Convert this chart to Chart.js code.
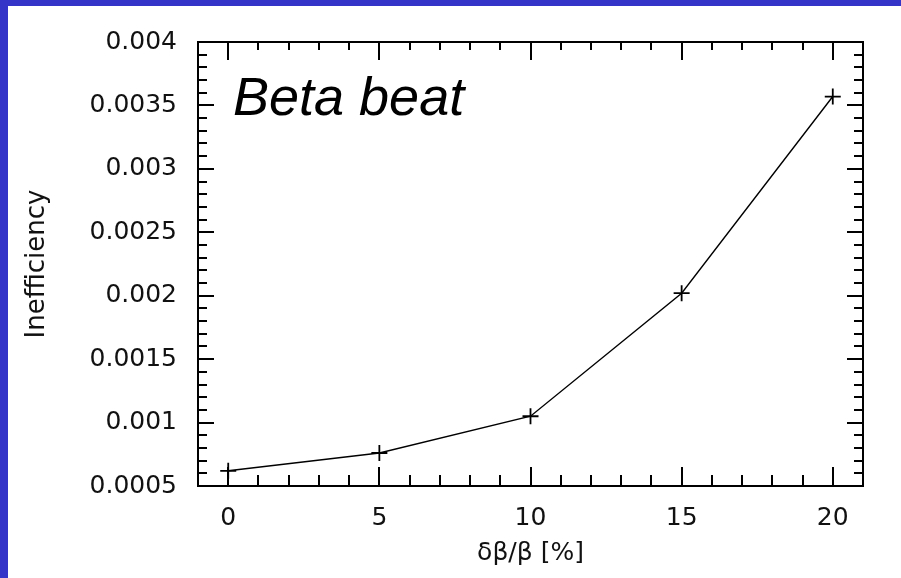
<!DOCTYPE html>
<html>
<head>
<meta charset="utf-8">
<script src="https://cdn.jsdelivr.net/npm/chart.js@4.4.0/dist/chart.umd.min.js"></script>
<style>
    html, body { margin: 0; padding: 0; }
    body { width: 901px; height: 578px; background: #3434c8; overflow: hidden; position: relative; }
    #painel { position: absolute; left: 8px; top: 6px; width: 893px; height: 572px; background: #fff; }
    #rotulo { position: absolute; left: 233px; top: 69px; font: italic 54px "Liberation Sans", Arial, sans-serif; line-height: 54px; color: #000; }
</style>
</head>
<body>
<div id="painel"><canvas id="GraficoBeta" width="893" height="572"></canvas></div>
<div id="rotulo">Beta beat</div>
<script>
var betaBeat = [0, 5, 10, 15, 20];
var inefficiency = [0.00062, 0.00076, 0.00105, 0.00202, 0.00357];

var xTicks = [0, 5, 10, 15, 20];
var yTicks = [0.0005, 0.001, 0.0015, 0.002, 0.0025, 0.003, 0.0035, 0.004];
var yTickLabels = ['0.0005', '0.001', '0.0015', '0.002', '0.0025', '0.003', '0.0035', '0.004'];

var fonte = "'DejaVu Sans', sans-serif";

// moldura do grafico com tracinhos para dentro (maiores e menores)
var moldura = {
    id: 'moldura',
    afterDatasetsDraw: function (chart) {
        var ctx = chart.ctx;
        var area = chart.chartArea;
        var sx = chart.scales.x;
        var sy = chart.scales.y;
        ctx.save();
        ctx.strokeStyle = '#000';
        ctx.lineWidth = 2;
        ctx.beginPath();
        ctx.rect(area.left, area.top, area.right - area.left, area.bottom - area.top);
        ctx.stroke();

        ctx.beginPath();
        for (var i = Math.ceil(sx.min); i <= sx.max; i++) {
            if (i <= sx.min || i >= sx.max) continue;
            var px = Math.round(sx.getPixelForValue(i));
            var maior = xTicks.indexOf(i) >= 0;
            ctx.moveTo(px, area.bottom);
            ctx.lineTo(px, area.bottom - (maior ? 19 : 11));
            ctx.moveTo(px, area.top);
            ctx.lineTo(px, area.top + (maior ? 18 : 8));
        }
        for (var j = 1; j < 35; j++) {
            var py = Math.round(sy.getPixelForValue(sy.min + j * 0.0001));
            var grande = j % 5 === 0;
            ctx.moveTo(area.left, py);
            ctx.lineTo(area.left + (grande ? 16 : 9), py);
            ctx.moveTo(area.right, py);
            ctx.lineTo(area.right - (grande ? 16 : 9), py);
        }
        ctx.stroke();
        ctx.restore();
    }
};

var ctx = document.getElementById('GraficoBeta').getContext('2d');

var grafico = new Chart(ctx, {
    type: 'line',
    data: {
        datasets: [{
            label: 'Inefficiency',
            data: betaBeat.map(function (b, i) { return { x: b, y: inefficiency[i] }; }),
            borderColor: '#000',
            borderWidth: 1.4,
            pointStyle: 'cross',
            pointRadius: 8,
            pointBorderWidth: 1.8,
            pointBorderColor: '#000',
            fill: false,
            tension: 0
        }]
    },
    options: {
        responsive: false,
        animation: false,
        devicePixelRatio: 1,
        layout: { padding: { left: 0, top: 35, right: 38, bottom: 0 } },
        plugins: {
            legend: { display: false },
            tooltip: { enabled: false }
        },
        scales: {
            x: {
                type: 'linear',
                min: -1,
                max: 21,
                afterBuildTicks: function (s) { s.ticks = xTicks.map(function (v) { return { value: v }; }); },
                afterFit: function (s) { s.height = 92; },
                ticks: { font: { family: fonte, size: 25 }, color: '#111', padding: 17, maxRotation: 0, autoSkip: false },
                grid: { display: false, drawTicks: false },
                border: { display: false },
                title: { display: true, text: 'δβ/β [%]', font: { family: fonte, size: 25 }, color: '#111', padding: { top: 0, bottom: 10 } }
            },
            y: {
                type: 'linear',
                min: 0.0005,
                max: 0.004,
                afterBuildTicks: function (s) { s.ticks = yTicks.map(function (v) { return { value: v }; }); },
                afterFit: function (s) { s.width = 190; },
                ticks: {
                    font: { family: fonte, size: 25 }, color: '#111', padding: 21, autoSkip: false,
                    callback: function (v, i) { return yTickLabels[i]; }
                },
                grid: { display: false, drawTicks: false },
                border: { display: false },
                title: { display: true, text: 'Inefficiency', font: { family: fonte, size: 26 }, color: '#111', padding: { top: 14, bottom: 0 } }
            }
        }
    },
    plugins: [moldura]
});
</script>
</body>
</html>
